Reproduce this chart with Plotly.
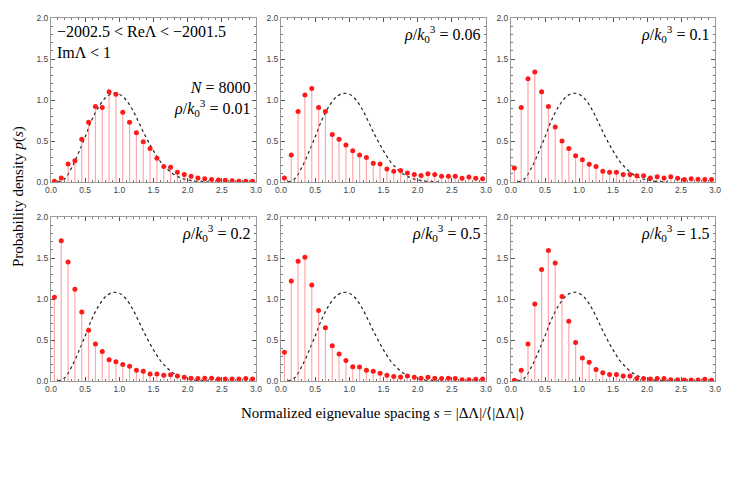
import plotly.graph_objects as go

# bin centres of the spacing histogram
s_bins = [round(0.05 + 0.1 * i, 2) for i in range(30)]

p_001 = [0.01, 0.05, 0.22, 0.26, 0.52, 0.73, 0.92, 0.91, 1.10, 1.07,
         0.85, 0.73, 0.60, 0.49, 0.41, 0.29, 0.19, 0.18, 0.12, 0.09,
         0.07, 0.05, 0.04, 0.03, 0.025, 0.02, 0.015, 0.01, 0.01, 0.01]
p_006 = [0.05, 0.33, 0.86, 1.06, 1.14, 0.91, 0.86, 0.58, 0.52, 0.45,
         0.38, 0.33, 0.30, 0.23, 0.22, 0.16, 0.13, 0.14, 0.11, 0.09,
         0.08, 0.10, 0.09, 0.07, 0.07, 0.07, 0.045, 0.06, 0.045, 0.04]
p_01 = [0.17, 0.91, 1.26, 1.34, 1.10, 0.92, 0.67, 0.50, 0.41, 0.32,
        0.27, 0.215, 0.19, 0.13, 0.12, 0.12, 0.09, 0.09, 0.075, 0.075,
        0.05, 0.065, 0.05, 0.065, 0.045, 0.03, 0.04, 0.035, 0.03, 0.03]
p_02 = [1.02, 1.71, 1.45, 1.12, 0.84, 0.62, 0.45, 0.36, 0.26, 0.235,
        0.20, 0.18, 0.13, 0.12, 0.085, 0.085, 0.07, 0.075, 0.06, 0.045,
        0.035, 0.03, 0.035, 0.035, 0.025, 0.025, 0.025, 0.025, 0.03, 0.025]
p_05 = [0.35, 1.22, 1.46, 1.51, 1.17, 0.86, 0.65, 0.43, 0.33, 0.25,
        0.175, 0.17, 0.13, 0.12, 0.095, 0.07, 0.055, 0.05, 0.06, 0.045,
        0.035, 0.045, 0.035, 0.03, 0.035, 0.03, 0.015, 0.015, 0.02, 0.025]
p_15 = [0.01, 0.13, 0.45, 0.94, 1.36, 1.59, 1.44, 1.03, 0.73, 0.47,
        0.28, 0.23, 0.14, 0.10, 0.08, 0.08, 0.06, 0.06, 0.03, 0.03,
        0.025, 0.03, 0.03, 0.015, 0.015, 0.012, 0.012, 0.012, 0.02, 0.01]

# reference curve (dashed)
s_curve = [0.1, 0.2, 0.3, 0.4, 0.5, 0.6, 0.7, 0.8, 0.9, 1.0, 1.1, 1.2,
           1.3, 1.4, 1.5, 1.6, 1.7, 1.8, 1.9, 2.0, 2.1, 2.2, 2.3]
p_curve = [0.0, 0.04, 0.17, 0.35, 0.55, 0.76, 0.92, 1.03, 1.08, 1.07, 1.00, 0.87,
           0.70, 0.53, 0.38, 0.25, 0.16, 0.09, 0.05, 0.025, 0.012, 0.005, 0.0]

densities = ["0.01", "0.06", "0.1", "0.2", "0.5", "1.5"]
panels = [p_001, p_006, p_01, p_02, p_05, p_15]

# page has an 8px body margin, so the figure is a bit smaller than the window
OFF = 8
W, H = 731 - OFF, 496 - OFF
col_px = [(51, 256), (281, 486), (511, 715)]
row_px = [(18, 182), (217, 381)]


def px_x(p):
    return (p - OFF) / W


def px_y(p):
    return 1 - (p - OFF) / H


serif = "Liberation Serif"
fig = go.Figure()

for k, vals in enumerate(panels):
    r, c = divmod(k, 3)
    n = "" if k == 0 else str(k + 1)
    xa, ya = "x" + n, "y" + n

    fig.add_trace(go.Scatter(
        x=s_curve, y=p_curve, mode="lines", xaxis=xa, yaxis=ya,
        line=dict(color="#222", dash="dot", width=1.2, shape="spline"),
        showlegend=False))
    fig.add_trace(go.Scatter(
        x=s_bins, y=vals, mode="markers", xaxis=xa, yaxis=ya,
        marker=dict(color="#ff1a1a", size=5),
        error_y=dict(type="data", symmetric=False, array=[0] * len(vals),
                     arrayminus=vals, width=0, thickness=1.2,
                     color="rgba(255,110,110,0.6)"),
        showlegend=False))

    x0, x1 = col_px[c]
    y0, y1 = row_px[r]
    axis_common = dict(
        showgrid=False, zeroline=False, showline=True, mirror="ticks",
        linecolor="#9a9a9a", linewidth=1, ticks="inside", ticklen=4,
        tickcolor="#555", tickfont=dict(family="Liberation Sans", size=8.5, color="#444"),
        dtick=0.5, tickformat=".1f", automargin=False,
        minor=dict(ticks="inside", ticklen=2, dtick=0.1, tickcolor="#777"))
    fig.layout["xaxis" + n] = dict(
        axis_common, domain=[px_x(x0), px_x(x1)], range=[0, 3], anchor=ya)
    fig.layout["yaxis" + n] = dict(
        axis_common, domain=[px_y(y1), px_y(y0)], range=[0, 2], anchor=xa)

    label = "<i>ρ</i>/<i>k</i><sub>0</sub><sup>3</sup> = " + densities[k]
    if k == 0:
        label = "<i>N</i> = 8000<br>" + label
        fig.add_annotation(
            x=0.02, y=0.98, xref=xa + " domain", yref=ya + " domain",
            text="−2002.5 < ReΛ < −2001.5<br>ImΛ < 1", showarrow=False,
            xanchor="left", yanchor="top", align="left",
            font=dict(family=serif, size=16, color="black"))
        fig.add_annotation(
            x=0.98, y=0.64, xref=xa + " domain", yref=ya + " domain",
            text=label, showarrow=False, xanchor="right", yanchor="top",
            align="right", font=dict(family=serif, size=16, color="black"))
    else:
        fig.add_annotation(
            x=0.98, y=0.98, xref=xa + " domain", yref=ya + " domain",
            text=label, showarrow=False, xanchor="right", yanchor="top",
            align="right", font=dict(family=serif, size=16, color="black"))

fig.add_annotation(
    x=px_x(18), y=px_y(197), xref="paper", yref="paper", textangle=-90,
    xanchor="center", yanchor="middle",
    text="Probability density <i>p</i>(<i>s</i>)", showarrow=False,
    font=dict(family=serif, size=15, color="black"))
fig.add_annotation(
    x=px_x(383), y=px_y(413), xref="paper", yref="paper",
    xanchor="center", yanchor="middle",
    text="Normalized eignevalue spacing <i>s</i> = |ΔΛ|/⟨|ΔΛ|⟩", showarrow=False,
    font=dict(family=serif, size=15, color="black"))

fig.update_layout(width=W, height=H, margin=dict(l=0, r=0, t=0, b=0),
                  paper_bgcolor="white", plot_bgcolor="white")

fig.write_html("out.html")
